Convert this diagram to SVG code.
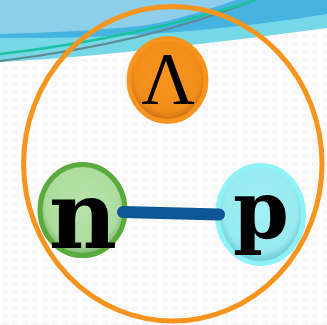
<svg xmlns="http://www.w3.org/2000/svg" width="327" height="325" viewBox="0 0 327 325">
  <defs>
    <pattern id="dots" width="10" height="8" patternUnits="userSpaceOnUse">
      <rect width="10" height="8" fill="#FEFEFE"/>
      <ellipse cx="5" cy="4" rx="3.5" ry="2.5" fill="#F6F6F6"/>
    </pattern>
    <radialGradient id="gL" cx="50%" cy="45%" r="55%">
      <stop offset="0" stop-color="#F7941D"/>
      <stop offset="0.78" stop-color="#F28D1B"/>
      <stop offset="1" stop-color="#C2690F"/>
    </radialGradient>
    <radialGradient id="gN" cx="50%" cy="45%" r="55%">
      <stop offset="0" stop-color="#B6E3A9"/>
      <stop offset="0.78" stop-color="#ADDCA0"/>
      <stop offset="1" stop-color="#7DAE71"/>
    </radialGradient>
    <radialGradient id="gP" cx="50%" cy="45%" r="55%">
      <stop offset="0" stop-color="#A2F2F6"/>
      <stop offset="0.78" stop-color="#97EAF0"/>
      <stop offset="1" stop-color="#62C3CA"/>
    </radialGradient>
    <style>
      .node { stroke-width: 5; }
      .sym { font-family: "DejaVu Serif", "Liberation Serif", serif; font-weight: bold; fill: #000; text-anchor: middle; }
      .lam { font-family: "Liberation Serif", serif; fill: #000; text-anchor: middle; }
    </style>
  </defs>

  <g id="background">
    <rect width="327" height="325" fill="url(#dots)"/>
    <path d="M0,0 H327 V28 C220,42 110,56 0,62 Z" fill="#76D8E6"/>
    <path d="M0,0 H327 V14 C230,30 120,39 0,38 Z" fill="#46B4E0"/>
    <path d="M0,0 H236 C200,12 170,22 140,26 C90,31 40,33 0,34 Z" fill="#8DCEEB"/>
    <path d="M0,61 C90,50 180,30 252,1" fill="none" stroke="#5E8A93" stroke-width="2"/>
    <path d="M0,54 C80,45 170,27 256,0" fill="none" stroke="#17C29E" stroke-width="2.5"/>
  </g>

  <g id="nucleus">
    <ellipse cx="172.8" cy="163.8" rx="149.2" ry="157.3" fill="none" stroke="#F7941D" stroke-width="5"/>
  </g>

  <g id="lambda">
    <ellipse class="node" cx="167.5" cy="80" rx="38.5" ry="41.5" fill="url(#gL)" stroke="#F7941D"/>
    <text class="lam" x="168" y="104" font-size="74">Λ</text>
  </g>

  <g id="neutron">
    <ellipse class="node" cx="82.5" cy="210" rx="42.5" ry="45.5" fill="url(#gN)" stroke="#5BAA3C"/>
    <text class="sym" x="83" y="248" font-size="94">n</text>
  </g>

  <g id="proton">
    <ellipse class="node" cx="260.5" cy="214.5" rx="43" ry="49" fill="url(#gP)" stroke="#8EF2F8"/>
    <text class="sym" x="261" y="238" font-size="80">p</text>
  </g>

  <g id="connectors">
    <line x1="123" y1="212" x2="219" y2="214.5" stroke="#0E5797" stroke-width="12" stroke-linecap="round"/>
  </g>
</svg>
